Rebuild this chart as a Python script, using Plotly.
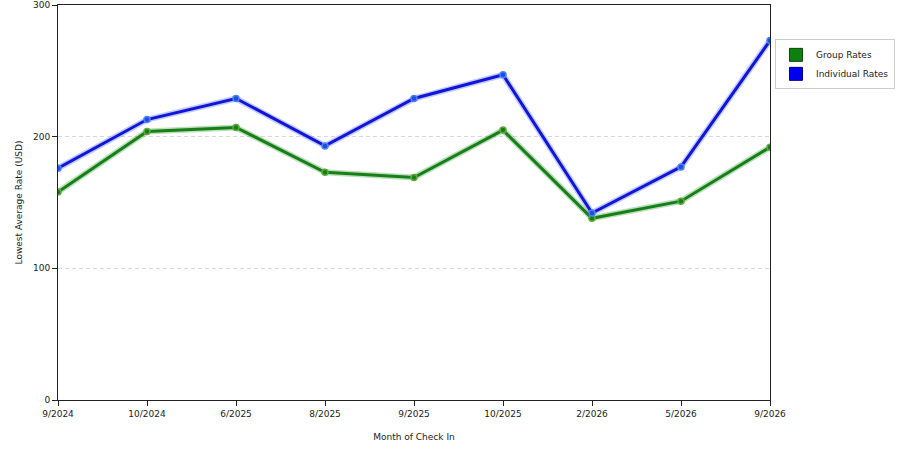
import plotly.graph_objects as go

months = ["9/2024", "10/2024", "6/2025", "8/2025", "9/2025", "10/2025", "2/2026", "5/2026", "9/2026"]
group_rates = [158, 204, 207, 173, 169, 205, 138, 151, 192]
individual_rates = [176, 213, 229, 193, 229, 247, 142, 177, 273]

GREEN = "#177f17"
BLUE = "#1414d8"

fig = go.Figure()

# glow under each line, like the original renderer
for ys, glow in [(group_rates, "rgba(60,160,60,0.35)"), (individual_rates, "rgba(70,110,255,0.35)")]:
    fig.add_trace(go.Scatter(x=months, y=ys, mode="lines", line=dict(color=glow, width=6),
                             hoverinfo="skip", showlegend=False))

fig.add_trace(go.Scatter(x=months, y=group_rates, mode="lines+markers", name="Group Rates",
                         line=dict(color=GREEN, width=3),
                         marker=dict(size=6, color=GREEN, line=dict(color="#5faa3f", width=1.5)),
                         showlegend=False))
fig.add_trace(go.Scatter(x=months, y=individual_rates, mode="lines+markers", name="Individual Rates",
                         line=dict(color=BLUE, width=3),
                         marker=dict(size=6, color="#1a4fe0", line=dict(color="#4f7fff", width=1.5)),
                         showlegend=False))

# square legend keys
fig.add_trace(go.Scatter(x=[None], y=[None], mode="markers", name="Group Rates",
                         marker=dict(symbol="square", size=13, color="#0f7f0f",
                                     line=dict(color="#0a4a0a", width=1))))
fig.add_trace(go.Scatter(x=[None], y=[None], mode="markers", name="Individual Rates",
                         marker=dict(symbol="square", size=13, color="#0000f0",
                                     line=dict(color="#00008a", width=1))))

fig.update_layout(
    width=900, height=450,
    margin=dict(l=58, r=130, t=5, b=50, autoexpand=False),
    paper_bgcolor="white", plot_bgcolor="white",
    font=dict(family="DejaVu Sans, Verdana, sans-serif", size=9, color="#222"),
    legend=dict(x=1.007, y=0.913, xanchor="left", yanchor="top",
                bordercolor="#cccccc", borderwidth=1, bgcolor="white",
                font=dict(size=9), itemwidth=30, tracegroupgap=2),
    xaxis=dict(type="category", range=[0, 8], showgrid=False, zeroline=False,
               showline=True, linecolor="#222", linewidth=1, mirror=True,
               ticks="outside", ticklen=5, tickcolor="#222",
               title=dict(text="Month of Check In", font=dict(size=9), standoff=15)),
    yaxis=dict(range=[0, 300], tickvals=[0, 100, 200, 300], showgrid=True,
               gridcolor="#d8d8d8", griddash="4px,3px", gridwidth=1, zeroline=False,
               showline=True, linecolor="#222", linewidth=1, mirror=True,
               ticks="outside", ticklen=5, tickcolor="#222",
               title=dict(text="Lowest Average Rate (USD)", font=dict(size=9), standoff=8)),
)

fig.write_html("out.html", config={"displayModeBar": False},
               post_script="document.body.style.margin='0';")
